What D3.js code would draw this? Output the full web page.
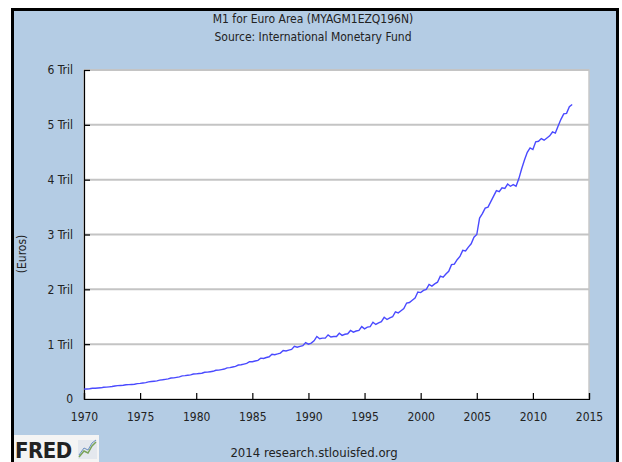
<!DOCTYPE html>
<html><head><meta charset="utf-8">
<script src="https://cdn.jsdelivr.net/npm/d3@7/dist/d3.min.js"></script>
<style>
html,body{margin:0;padding:0;background:#fff;}
svg{display:block;}
text{font-family:"DejaVu Sans Condensed","DejaVu Sans",sans-serif;fill:#222;}
</style></head>
<body><svg id="c" width="622" height="462"></svg>
<script>
const title = "M1 for Euro Area (MYAGM1EZQ196N)";
const subtitle = "Source: International Monetary Fund";
const yLabel = "(Euros)";
const footer = "2014 research.stlouisfed.org";
const xTicks = [1970,1975,1980,1985,1990,1995,2000,2005,2010,2015];
const yTicks = [0,1,2,3,4,5,6];
const yTickLabels = ["0","1 Tril","2 Tril","3 Tril","4 Tril","5 Tril","6 Tril"];
const startYear = 1970;
// quarterly M1, trillions of euros (Q1..Q4 per row), from 1970Q1
const m1 = [
 0.180,0.183,0.186,0.195,
 0.196,0.200,0.204,0.214,
 0.217,0.222,0.227,0.238,
 0.244,0.247,0.250,0.260,
 0.262,0.265,0.269,0.281,
 0.285,0.292,0.299,0.313,
 0.318,0.324,0.330,0.345,
 0.350,0.358,0.366,0.382,
 0.386,0.395,0.404,0.422,
 0.426,0.433,0.440,0.456,
 0.458,0.464,0.470,0.488,
 0.490,0.497,0.505,0.524,
 0.527,0.536,0.546,0.568,
 0.573,0.584,0.595,0.620,
 0.624,0.636,0.648,0.680,
 0.680,0.693,0.705,0.745,
 0.740,0.756,0.770,0.815,
 0.808,0.822,0.838,0.885,
 0.876,0.892,0.905,0.960,
 0.945,0.960,0.972,1.030,
 1.000,1.020,1.060,1.140,
 1.100,1.110,1.110,1.170,
 1.130,1.140,1.140,1.200,
 1.160,1.180,1.190,1.250,
 1.220,1.240,1.250,1.320,
 1.280,1.310,1.320,1.400,
 1.360,1.390,1.410,1.490,
 1.450,1.480,1.500,1.590,
 1.570,1.610,1.650,1.750,
 1.760,1.800,1.840,1.950,
 1.940,1.980,2.000,2.090,
 2.060,2.100,2.130,2.240,
 2.220,2.280,2.330,2.450,
 2.460,2.540,2.600,2.710,
 2.700,2.770,2.830,2.950,
 3.000,3.300,3.380,3.480,
 3.500,3.600,3.700,3.800,
 3.780,3.850,3.840,3.920,
 3.880,3.910,3.880,4.020,
 4.200,4.360,4.500,4.580,
 4.550,4.690,4.700,4.750,
 4.720,4.760,4.800,4.870,
 4.850,4.980,5.100,5.200,
 5.210,5.330,5.370
];

const svg = d3.select("#c");
// outer frame
svg.append("rect").attr("x",12.5).attr("y",9.5).attr("width",605).attr("height",460)
  .attr("fill","#b4cce4").attr("stroke","#000").attr("stroke-width",3);

const m = {left:84, right:589, top:70, bottom:399};
const x = d3.scaleLinear().domain([1970,2015]).range([m.left,m.right]);
const y = d3.scaleLinear().domain([0,6]).range([m.bottom,m.top]);

svg.append("rect").attr("x",m.left).attr("y",m.top).attr("width",m.right-m.left).attr("height",m.bottom-m.top)
  .attr("fill","#fff").attr("stroke","#c8c8c8").attr("stroke-width",1.5);

// gridlines
svg.append("g").selectAll("line").data(yTicks.filter(d=>d>0)).join("line")
  .attr("x1",m.left).attr("x2",m.right).attr("y1",d=>y(d)).attr("y2",d=>y(d))
  .attr("stroke","#c4c4c4").attr("stroke-width",2);

// axes
const yAxis = d3.axisLeft(y).tickValues(yTicks).tickSize(-6).tickPadding(11)
  .tickFormat((d,i)=>yTickLabels[i]);
const gy = svg.append("g").attr("transform",`translate(${m.left},0)`).call(yAxis);
const xAxis = d3.axisBottom(x).tickValues(xTicks).tickSize(-6).tickPadding(13).tickFormat(d3.format("d"));
const gx = svg.append("g").attr("transform",`translate(0,${m.bottom})`).call(xAxis);
[gy,gx].forEach(g=>{
  g.select(".domain").attr("stroke","#000").attr("stroke-width",1.2);
  g.selectAll(".tick line").attr("stroke","#000").attr("stroke-width",1.2);
  g.selectAll("text").attr("font-family","'DejaVu Sans Condensed','DejaVu Sans',sans-serif")
   .attr("font-size",12).attr("fill","#222");
});
gy.selectAll(".tick").filter(d=>d===0).select("line").remove();

// line
const pts = m1.map((v,i)=>({t:startYear+i/4, v}));
svg.append("path").datum(pts)
  .attr("d", d3.line().x(d=>x(d.t)).y(d=>y(d.v)))
  .attr("fill","none").attr("stroke","#4a4aff").attr("stroke-width",1.4);

// titles
svg.append("text").attr("x",313).attr("y",23).attr("text-anchor","middle").attr("font-size",12).text(title);
svg.append("text").attr("x",313).attr("y",41).attr("text-anchor","middle").attr("font-size",12).text(subtitle);
svg.append("text").attr("transform","translate(26,254) rotate(-90)").attr("text-anchor","middle")
  .attr("font-size",12).text(yLabel);
svg.append("text").attr("x",314).attr("y",457).attr("text-anchor","middle").attr("font-size",13).text(footer);

// FRED logo
const lg = svg.append("g");
lg.append("rect").attr("x",14).attr("y",435).attr("width",85).attr("height",27).attr("fill","#f4f4f4");
lg.append("text").attr("x",15).attr("y",458).attr("font-family","'Liberation Sans',Arial,sans-serif")
  .attr("font-weight","bold").attr("font-size",22).attr("fill","#111").attr("letter-spacing","-0.5").text("FRED");
lg.append("rect").attr("x",78).attr("y",440).attr("width",19).attr("height",19).attr("fill","#e4e8ee");
lg.append("path").attr("d","M79,457 L84,451 L88,453 L92,446 L96,442").attr("fill","none").attr("stroke","#7aa35a").attr("stroke-width",1.5);
lg.append("path").attr("d","M79,455 L84,448 L88,450 L92,443 L96,440").attr("fill","none").attr("stroke","#6b8fc0").attr("stroke-width",1);
</script></body></html>
